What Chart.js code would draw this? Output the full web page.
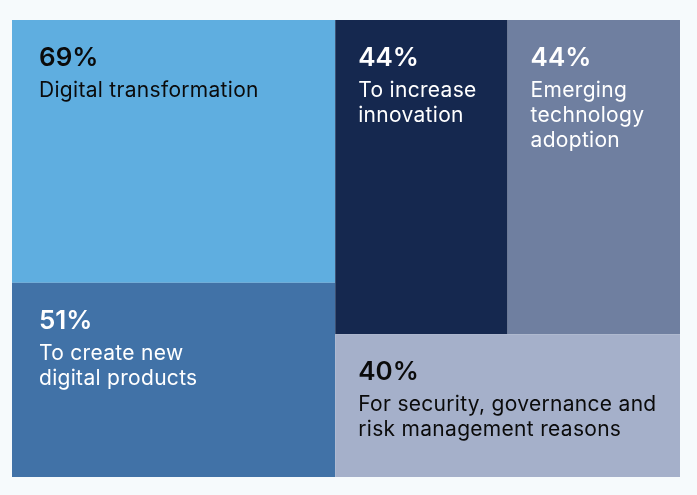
<!DOCTYPE html>
<html>
<head>
<meta charset="utf-8">
<script src="https://cdn.jsdelivr.net/npm/chart.js@4/dist/chart.umd.min.js"></script>
<style>
html,body{margin:0;padding:0;background:#f6fafc;}
canvas{display:block;}
</style>
</head>
<body>
<canvas id="c" width="697" height="495"></canvas>
<script>
// ---- data ----
const categories = [
  ["Digital transformation"],
  ["To create new", "digital products"],
  ["To increase", "innovation"],
  ["Emerging", "technology", "adoption"],
  ["For security, governance and", "risk management reasons"]
];
const values = [69, 51, 44, 44, 40];
const valueLabels = ["69%", "51%", "44%", "44%", "40%"];
const fillColors = ["#5faee0", "#4172a7", "#15284f", "#6f7fa0", "#a5b0ca"];
const textColors = ["#0b0b0b", "#ffffff", "#ffffff", "#ffffff", "#0b0b0b"];

// squarified treemap layout in pixel space
function worst(row, side) {
  const s = row.reduce((a, b) => a + b, 0);
  let w = 0;
  for (const a of row) {
    w = Math.max(w, (side * side * a) / (s * s), (s * s) / (side * side * a));
  }
  return w;
}
function squarify(vals, x, y, w, h) {
  const total = vals.reduce((a, b) => a + b, 0);
  const areas = vals.map(v => v * w * h / total);
  const out = [];
  const r = { x, y, w, h };
  let i = 0;
  while (i < areas.length) {
    const side = Math.min(r.w, r.h);
    let row = [areas[i]];
    let j = i + 1;
    while (j < areas.length) {
      const cand = row.concat(areas[j]);
      if (worst(cand, side) <= worst(row, side)) { row = cand; j++; } else break;
    }
    const s = row.reduce((a, b) => a + b, 0);
    if (r.w >= r.h) {
      const cw = s / r.h;
      let yy = r.y;
      for (const a of row) { out.push({ x: r.x, y: yy, w: cw, h: a / cw }); yy += a / cw; }
      r.x += cw; r.w -= cw;
    } else {
      const rh = s / r.w;
      let xx = r.x;
      for (const a of row) { out.push({ x: xx, y: r.y, w: a / rh, h: rh }); xx += a / rh; }
      r.y += rh; r.h -= rh;
    }
    i = j;
  }
  return out;
}

const treemapPlugin = {
  id: 'treemap',
  beforeDraw(chart) {
    const ctx = chart.ctx;
    ctx.save();
    ctx.fillStyle = '#f6fafc';
    ctx.fillRect(0, 0, chart.width, chart.height);
    ctx.restore();
  },
  afterDatasetsDraw(chart) {
    const ctx = chart.ctx;
    const xs = chart.scales.x, ys = chart.scales.y;
    const left = xs.getPixelForValue(0), right = xs.getPixelForValue(1);
    const top = ys.getPixelForValue(0), bottom = ys.getPixelForValue(1);
    const rects = squarify(values, left, top, right - left, bottom - top);
    ctx.save();
    rects.forEach((r, i) => {
      ctx.fillStyle = fillColors[i];
      ctx.fillRect(r.x, r.y, r.w, r.h);
    });
    rects.forEach((r, i) => {
      const padX = r.x < (left + 1) ? 27 : 23;
      const tx = r.x + padX;
      ctx.fillStyle = textColors[i];
      ctx.textBaseline = 'alphabetic';
      ctx.textAlign = 'left';
      ctx.letterSpacing = '0px';
      ctx.font = '600 26px Inter, "Noto Sans", sans-serif';
      ctx.fillText(valueLabels[i], tx, r.y + 46);
      ctx.font = '400 21px Inter, "Noto Sans", sans-serif';
      ctx.letterSpacing = '0.3px';
      categories[i].forEach((line, k) => {
        ctx.fillText(line, tx, r.y + 77 + k * 25);
      });
    });
    ctx.restore();
  }
};

new Chart(document.getElementById('c'), {
  type: 'scatter',
  data: {
    labels: categories.map(c => c.join(' ')),
    datasets: [{ data: [], pointRadius: 0 }]
  },
  options: {
    responsive: false,
    devicePixelRatio: 1,
    animation: false,
    layout: { padding: { left: 12, right: 17, top: 20, bottom: 18 } },
    plugins: { legend: { display: false }, tooltip: { enabled: false } },
    scales: {
      x: { type: 'linear', min: 0, max: 1, display: false },
      y: { type: 'linear', min: 0, max: 1, reverse: true, display: false }
    }
  },
  plugins: [treemapPlugin]
});
</script>
</body>
</html>
